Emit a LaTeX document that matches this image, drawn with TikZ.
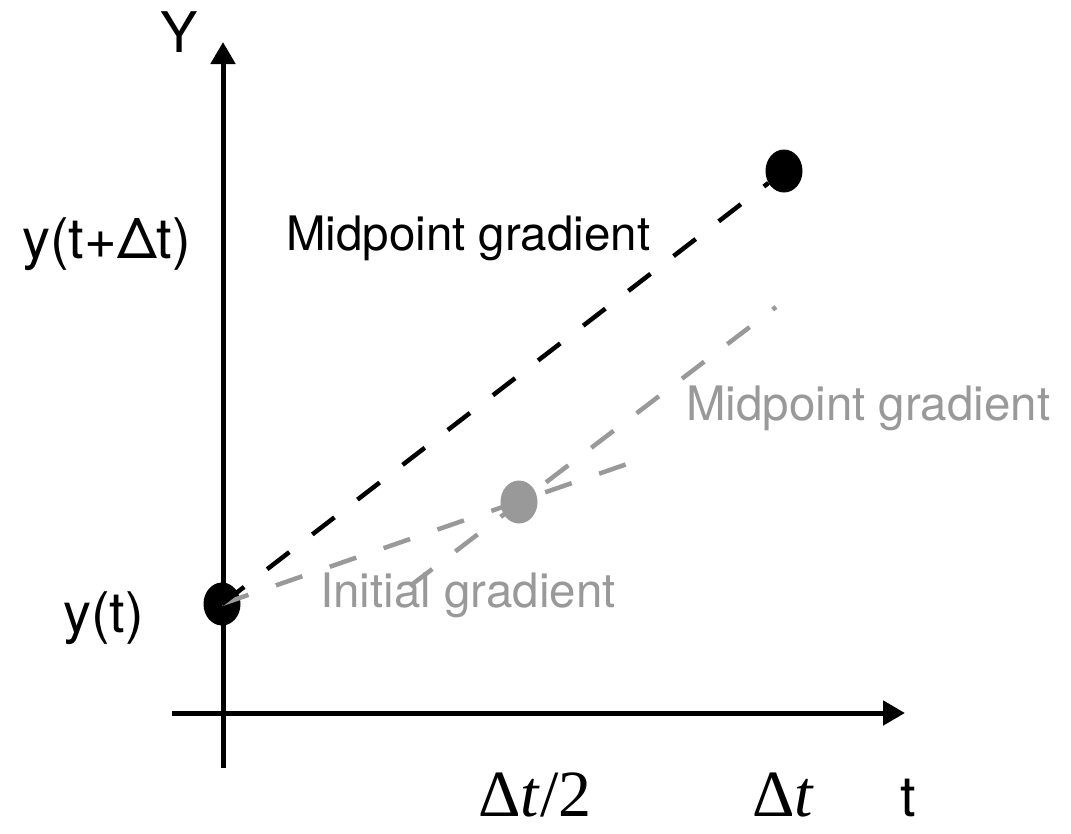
\documentclass[tikz,border=0pt]{standalone}
\usepackage{fontspec}
\setmainfont{TeX Gyre Heros}
\newfontfamily\mathserif{Liberation Serif}
\usetikzlibrary{arrows.meta,shapes.geometric}
\definecolor{lightgr}{RGB}{153,153,153}
\tikzset{
  axisline/.style={line width=5pt,-{Triangle[width=24pt,length=22pt]}},
  blackdash/.style={line width=4.5pt,dash pattern=on 28pt off 29pt,black},
  graydash/.style={line width=4.5pt,dash pattern=on 28pt off 29pt,lightgr},
  dotnode/.style={ellipse,inner sep=0pt,minimum width=37pt,minimum height=43pt},
  bigl/.style={font=\fontsize{56}{60}\selectfont,inner sep=0pt,anchor=base west},
  txt/.style={font=\fontsize{47.5}{50}\selectfont,inner sep=0pt,anchor=base west},
  mathl/.style={font=\fontsize{66}{70}\selectfont\mathserif,inner sep=0pt,anchor=base west}
}
\begin{document}
\begin{tikzpicture}[x=1pt,y=-1pt]
\useasboundingbox (0,0) rectangle (1071,833);
% axes
\coordinate (ybot) at (223,768);
\coordinate (ytop) at (223,42);
\coordinate (xleft) at (172,713);
\coordinate (xright) at (905,713);
\draw[axisline] (ybot) -- (ytop);
\draw[axisline] (xleft) -- (xright);
% dots
\node[dotnode,fill=black] (p0) at (222,604) {};
\node[dotnode,fill=black] (p1) at (784,171) {};
\node[dotnode,fill=lightgr] (pm) at (519,502) {};
% gradient lines
\coordinate (ginit) at (630,463);
\coordinate (gmidA) at (410,586);
\coordinate (gmidB) at (776,307);
\draw[graydash] (p0.center) -- (ginit);
\draw[graydash] (gmidA) -- (gmidB);
\draw[blackdash] (p0.center) -- (p1);
% labels
\node[bigl] (ylab) at (160,52) {Y};
\node[bigl] (tlab) at (900,816) {t};
\node[bigl] (yt) at (63,632) {y(t)};
\node[bigl] (ytd) at (22,258) {y(t+Δt)};
\node[txt] (mg1) at (286,250) {Midpoint gradient};
\node[txt,text=lightgr] (mg2) at (686,420) {Midpoint gradient};
\node[txt,text=lightgr] (ig) at (320,607) {Initial gradient};
\node[mathl] (dt2) at (478,816) {Δ\textit{t}/2};
\node[mathl] (dt) at (752,816) {Δ\textit{t}};
\end{tikzpicture}
\end{document}
